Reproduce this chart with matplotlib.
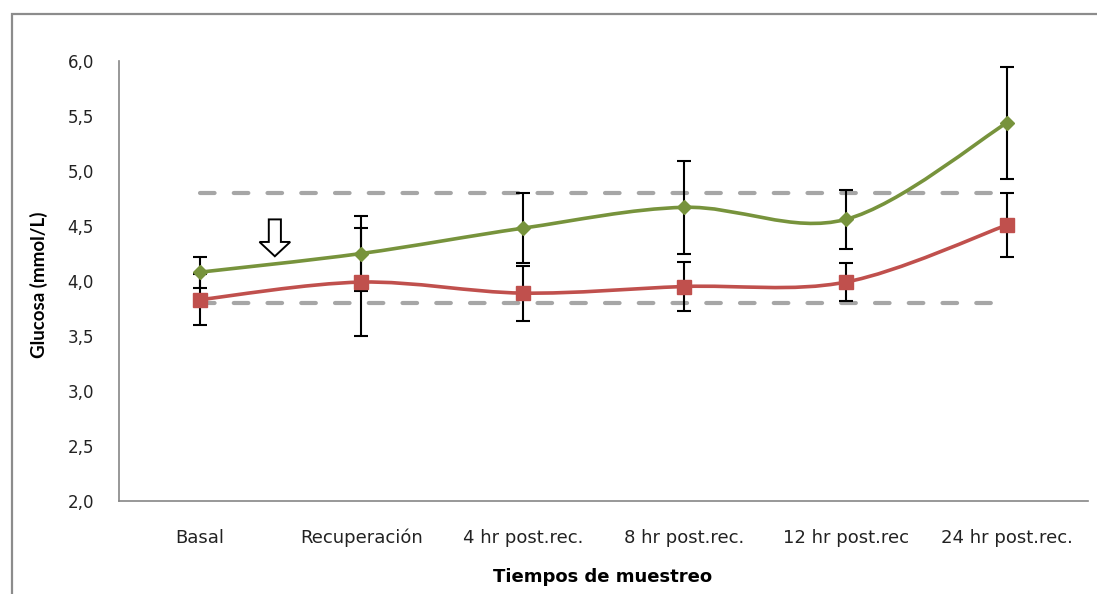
import matplotlib
matplotlib.use('Agg')
import matplotlib.pyplot as plt
import numpy as np
from matplotlib.path import Path
from matplotlib.patches import PathPatch, FancyArrow, Rectangle

# tiempos de muestreo y glucosa (media +- DE)
tiempos = ['Basal', 'Recuperación', '4 hr post.rec.', '8 hr post.rec.',
           '12 hr post.rec', '24 hr post.rec.']
verde = [4.08, 4.25, 4.48, 4.67, 4.56, 5.44]
verde_de = [0.14, 0.34, 0.32, 0.42, 0.27, 0.51]
rojo = [3.83, 3.99, 3.89, 3.95, 3.99, 4.51]
rojo_de = [0.23, 0.49, 0.25, 0.22, 0.17, 0.29]
# limites del rango normal
limite_sup = 4.8
limite_inf = 3.8

col_verde = '#77933C'
col_rojo = '#C0504D'


def curva_suave(xs, ys):
    # curva tipo Excel: bezier cubica por los puntos
    n = len(xs)
    verts = [(xs[0], ys[0])]
    codes = [Path.MOVETO]
    for i in range(n - 1):
        a = max(i - 1, 0)
        b = min(i + 2, n - 1)
        c1 = (xs[i] + (xs[i + 1] - xs[a]) / 6, ys[i] + (ys[i + 1] - ys[a]) / 6)
        c2 = (xs[i + 1] - (xs[b] - xs[i]) / 6, ys[i + 1] - (ys[b] - ys[i]) / 6)
        verts += [c1, c2, (xs[i + 1], ys[i + 1])]
        codes += [Path.CURVE4] * 3
    return Path(verts, codes)


fig = plt.figure(figsize=(10.97, 5.94), dpi=100)
# marco exterior del grafico
fig.patches.append(Rectangle((11.5 / 1097, -0.1), 1.2, (594 - 14) / 594 + 0.1,
                             transform=fig.transFigure, fill=False,
                             edgecolor='#8c8c8c', linewidth=1.6))

ax = fig.add_axes([119 / 1097, 93 / 594, 969 / 1097, 440 / 594])
x = np.arange(len(tiempos))

ax.hlines([limite_sup, limite_inf], x[0], x[-1], colors='#A6A6A6',
          linestyles=(0, (3.5, 4.6)), linewidth=3, zorder=1)
for ls in ax.collections:
    ls.set_capstyle('round')

ax.errorbar(x, verde, yerr=verde_de, fmt='none', ecolor='black',
            elinewidth=1.5, capsize=4.7, capthick=1.5, zorder=2)
ax.errorbar(x, rojo, yerr=rojo_de, fmt='none', ecolor='black',
            elinewidth=1.5, capsize=4.7, capthick=1.5, zorder=2)

ax.add_patch(PathPatch(curva_suave(x, verde), fill=False, edgecolor=col_verde,
                       linewidth=2.6, zorder=3))
ax.add_patch(PathPatch(curva_suave(x, rojo), fill=False, edgecolor=col_rojo,
                       linewidth=2.6, zorder=3))
ax.plot(x, verde, 'D', color=col_verde, markersize=7, zorder=4)
ax.plot(x, rojo, 's', color=col_rojo, markersize=10, zorder=4)

# flecha hueca
ax.add_patch(FancyArrow(0.465, 4.56, 0, -0.335, width=0.075, head_width=0.19,
                        head_length=0.13, length_includes_head=True,
                        facecolor='white', edgecolor='black', linewidth=1.4,
                        zorder=5))

ax.set_xlim(-0.5, 5.5)
ax.set_ylim(2.0, 6.0)
ax.set_yticks(np.arange(2.0, 6.01, 0.5))
ax.set_yticklabels([('%.1f' % v).replace('.', ',') for v in np.arange(2.0, 6.01, 0.5)])
ax.set_xticks(x)
ax.set_xticklabels(tiempos)
ax.tick_params(axis='y', length=0, pad=18, labelsize=12, labelcolor='#222222')
ax.tick_params(axis='x', length=0, pad=20, labelsize=13, labelcolor='#222222')
for s in ['top', 'right']:
    ax.spines[s].set_visible(False)
for s in ['left', 'bottom']:
    ax.spines[s].set_color('#868686')
    ax.spines[s].set_linewidth(1.2)

fig.text(39 / 1097, 1 - 285 / 594, 'Glucosa (mmol/L)', rotation=90,
         ha='center', va='center', fontsize=13.5, fontweight='bold',
         family=['Lato', 'DejaVu Sans'])
fig.text(603 / 1097, 1 - 577 / 594, 'Tiempos de muestreo', ha='center',
         va='center', fontsize=13, fontweight='bold')

plt.savefig('out.png', dpi=100)
